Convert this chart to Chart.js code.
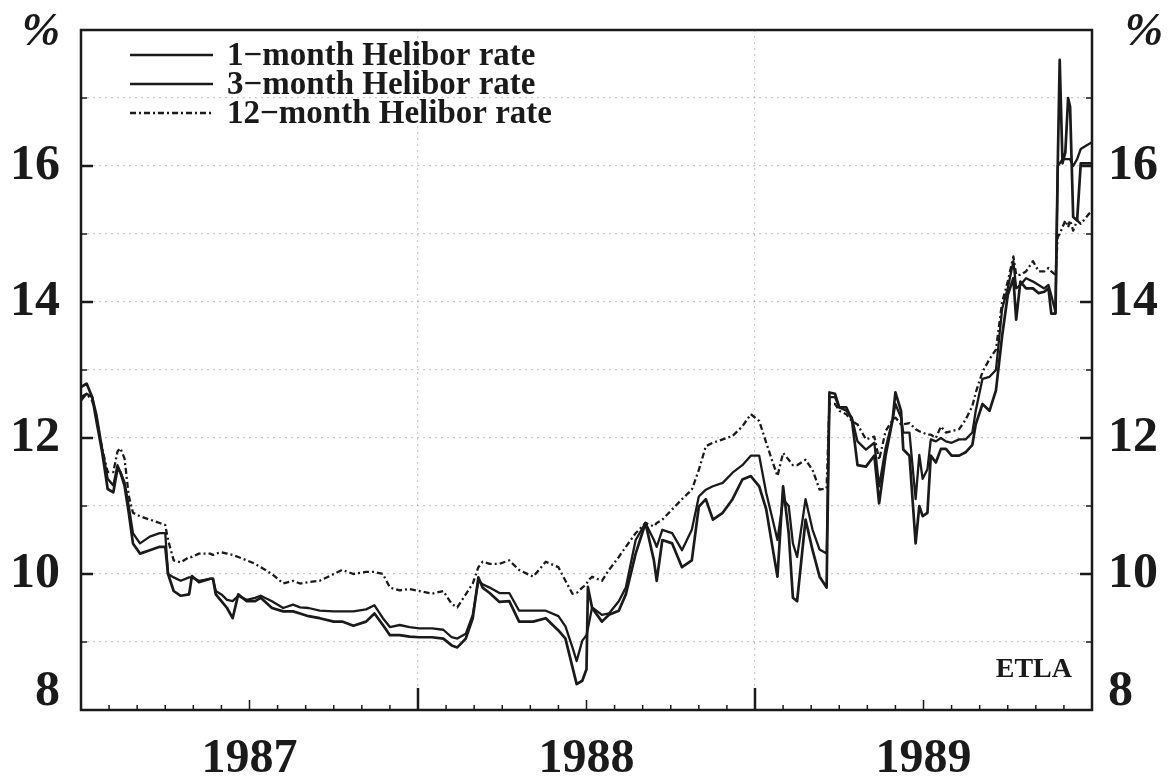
<!DOCTYPE html>
<html><head><meta charset="utf-8">
<script src="https://cdn.jsdelivr.net/npm/chart.js@4"></script>
<style>html,body{margin:0;padding:0;background:#fff}#wrap{width:1171px;height:778px;position:relative}</style>
</head><body><div id="wrap"><canvas id="c" width="1171" height="778" style="width:1171px;height:778px"></canvas></div>
<script>
// months since 1 Jan 1987
const months = [0,0.2,0.4,0.55,0.75,0.95,1.15,1.3,1.4,1.55,1.7,1.85,2.1,2.45,2.8,3.0,3.1,3.3,3.55,3.85,3.95,4.2,4.6,4.7,4.8,5.0,5.2,5.4,5.6,5.9,6.2,6.4,6.8,7.2,7.55,7.8,8.1,8.5,9.0,9.3,9.7,10.15,10.45,10.75,11.0,11.35,11.7,12.05,12.5,12.9,13.2,13.4,13.7,13.95,14.15,14.3,14.55,14.9,15.25,15.6,16.1,16.55,17.0,17.25,17.5,17.65,17.85,18.0,18.05,18.2,18.55,18.8,19.15,19.4,19.75,20.1,20.4,20.5,20.7,21.05,21.4,21.75,22.0,22.25,22.5,22.85,23.2,23.55,23.85,24.15,24.4,24.6,24.8,25.0,25.2,25.35,25.5,25.8,26.05,26.3,26.55,26.65,26.85,27.0,27.25,27.45,27.65,27.95,28.25,28.42,28.65,28.9,29.0,29.2,29.28,29.5,29.72,29.85,29.97,30.14,30.26,30.44,30.62,30.8,31.0,31.27,31.5,31.74,31.86,32.1,32.35,32.58,32.8,33.0,33.2,33.3,33.45,33.65,33.9,34.1,34.3,34.45,34.55,34.7,34.78,34.85,34.95,35.05,35.15,35.22,35.33,35.47,35.6,35.8,36.0];
const rate1m = [12.75,12.8,12.6,12.25,11.8,11.25,11.2,11.55,11.5,11.3,10.9,10.45,10.3,10.35,10.4,10.4,10.0,9.75,9.68,9.7,9.97,9.88,9.93,9.93,9.7,9.6,9.5,9.35,9.7,9.6,9.6,9.65,9.5,9.45,9.45,9.42,9.38,9.35,9.3,9.3,9.24,9.3,9.42,9.25,9.1,9.1,9.08,9.07,9.07,9.05,8.95,8.92,9.05,9.35,9.95,9.8,9.72,9.59,9.6,9.3,9.3,9.35,9.17,9.05,8.63,8.38,8.43,8.6,9.81,9.5,9.3,9.4,9.46,9.7,10.3,10.75,10.2,9.9,10.5,10.45,10.1,10.2,10.99,11.1,10.8,10.9,11.1,11.39,11.44,11.29,10.95,10.45,9.96,11.29,10.6,9.65,9.6,10.8,10.35,9.96,9.8,12.67,12.65,12.45,12.45,12.27,11.6,11.58,11.74,11.04,11.74,12.27,12.67,12.4,11.83,11.74,10.45,11.0,10.85,10.9,11.74,11.64,11.84,11.84,11.74,11.74,11.79,11.9,12.2,12.5,12.4,12.7,13.5,14.1,14.35,13.74,14.3,14.2,14.2,14.13,14.15,14.2,13.83,13.83,16.0,17.56,16.04,16.2,17.0,16.87,15.25,15.2,16.04,16.04,16.04];
const rate3m = [12.55,12.65,12.6,12.35,11.85,11.4,11.3,11.6,11.5,11.35,11.0,10.6,10.45,10.55,10.6,10.6,10.0,9.95,9.9,9.95,9.95,9.9,9.93,9.93,9.75,9.7,9.62,9.6,9.68,9.62,9.65,9.68,9.6,9.5,9.55,9.51,9.5,9.46,9.45,9.45,9.45,9.48,9.54,9.35,9.22,9.25,9.22,9.2,9.2,9.18,9.07,9.05,9.12,9.4,9.9,9.85,9.8,9.72,9.72,9.46,9.46,9.46,9.38,9.23,8.92,8.72,9.02,9.1,9.2,9.51,9.4,9.42,9.6,9.8,10.5,10.75,10.5,10.4,10.65,10.6,10.35,10.65,11.14,11.24,11.29,11.34,11.49,11.6,11.74,11.74,11.19,10.85,10.5,11.1,11.0,10.45,10.25,11.1,10.65,10.36,10.3,12.6,12.6,12.45,12.4,12.3,11.95,11.83,11.93,11.29,11.85,12.27,12.5,12.3,12.08,12.08,11.1,11.75,11.4,11.54,11.98,11.95,12.0,11.95,11.93,11.98,11.98,12.08,12.4,12.87,12.9,13.0,13.9,14.2,14.6,14.2,14.25,14.35,14.3,14.25,14.2,14.25,14.1,13.85,16.0,16.04,16.1,16.1,16.1,16.1,16.0,16.1,16.25,16.3,16.35];
const rate12m = [12.6,12.65,12.55,12.3,11.85,11.5,11.5,11.8,11.85,11.7,11.15,10.9,10.85,10.8,10.75,10.72,10.5,10.2,10.17,10.25,10.25,10.3,10.3,10.28,10.3,10.32,10.3,10.28,10.25,10.2,10.15,10.1,10.0,9.86,9.9,9.86,9.88,9.9,10.0,10.06,10.0,10.03,10.03,10.0,9.8,9.76,9.78,9.75,9.71,9.75,9.56,9.51,9.7,9.86,10.1,10.18,10.15,10.15,10.2,10.06,9.96,10.18,10.1,9.9,9.71,9.72,9.8,9.85,9.9,9.96,9.9,10.06,10.25,10.4,10.6,10.75,10.7,10.75,10.8,10.95,11.1,11.24,11.53,11.88,11.93,11.98,12.03,12.17,12.35,12.25,11.93,11.68,11.44,11.78,11.68,11.6,11.6,11.68,11.53,11.24,11.26,12.5,12.5,12.4,12.35,12.25,12.2,11.98,12.02,11.68,12.1,12.27,12.3,12.2,12.2,12.22,12.13,12.1,12.08,12.05,12.05,12.0,12.17,12.08,12.1,12.13,12.27,12.47,12.67,12.97,13.16,13.3,14.0,14.3,14.67,14.4,14.4,14.45,14.6,14.45,14.45,14.5,14.45,14.4,14.96,15.0,15.1,15.2,15.1,15.2,15.05,15.2,15.15,15.25,15.35];
const yearLabels = ['1987','1988','1989'];
const yLabelValues = [8,10,12,14,16];
const seriesNames = ['1\u2212month Helibor rate','3\u2212month Helibor rate','12\u2212month Helibor rate'];

const INK = '#1a1a1a';
const SERIF = '"Liberation Serif","Times New Roman",serif';

function pts(arr){ return months.map((m,i)=>({x:m,y:arr[i]})); }

const decor = {
  id:'decor',
  afterDraw(chart){
    const {ctx, chartArea:a, scales:{x,y}} = chart;
    ctx.save();
    ctx.strokeStyle = INK; ctx.fillStyle = INK;
    ctx.lineWidth = 2.5;
    ctx.strokeRect(a.left, a.top, a.right-a.left, a.bottom-a.top);
    for (let m=1;m<36;m++){
      const px = x.getPixelForValue(m);
      const len = m%12===0 ? 22 : (m%6===0 ? 10 : 5);
      ctx.lineWidth = m%12===0 ? 2.5 : 1.5;
      ctx.beginPath(); ctx.moveTo(px,a.bottom); ctx.lineTo(px,a.bottom-len); ctx.stroke();
    }
    for (let v=9; v<18; v++){
      const py = y.getPixelForValue(v);
      const len = v%2===0 ? 12 : 6;
      ctx.lineWidth = v%2===0 ? 2.5 : 1.5;
      ctx.beginPath(); ctx.moveTo(a.left,py); ctx.lineTo(a.left+len,py); ctx.stroke();
      ctx.beginPath(); ctx.moveTo(a.right,py); ctx.lineTo(a.right-len,py); ctx.stroke();
    }
    const rowsY = [25, 54, 83];
    ctx.font = 'bold 33px ' + SERIF;
    ctx.textBaseline = 'middle'; ctx.textAlign = 'left';
    chart.data.datasets.forEach((ds,i)=>{
      const yy = a.top + rowsY[i];
      ctx.save();
      ctx.lineWidth = ds.borderWidth; ctx.setLineDash(ds.borderDash || []);
      ctx.strokeStyle = ds.borderColor;
      ctx.beginPath(); ctx.moveTo(a.left+49, yy); ctx.lineTo(a.left+132, yy); ctx.stroke();
      ctx.restore();
      ctx.fillText(ds.label, a.left+146, yy+1);
    });
    ctx.font = 'italic bold 46px ' + SERIF;
    ctx.textAlign = 'center';
    ctx.fillText('%', a.left-40, a.top+3);
    ctx.fillText('%', a.right+52, a.top+3);
    ctx.font = 'bold 28px ' + SERIF;
    ctx.textAlign = 'right';
    ctx.fillText('ETLA', a.right-20, a.bottom-40);
    ctx.restore();
  }
};

function yTickCb(v){
  if (yLabelValues.indexOf(v) < 0) return '';
  return v === 8 ? ['8',''] : String(v);
}
const yFont = (c) => ({family: SERIF, size: 50, weight: 'bold', lineHeight: (c.tick && c.tick.value === 8) ? 0.72 : 1.2});
function noPadV(s){ s.paddingTop = 0; s.paddingBottom = 0; }

new Chart(document.getElementById('c'), {
  type: 'line',
  data: {
    datasets: [
      {label: seriesNames[0], data: pts(rate1m), borderColor: INK, borderWidth: 2.7, borderDash: []},
      {label: seriesNames[1], data: pts(rate3m), borderColor: INK, borderWidth: 2.3, borderDash: []},
      {label: seriesNames[2], data: pts(rate12m), borderColor: INK, borderWidth: 2.3, borderDash: [6,3,2,3]}
    ]
  },
  options: {
    responsive: false, animation: false,
    devicePixelRatio: 1,
    layout: {padding: {top: 30, left: 0, right: 0, bottom: 0}},
    elements: {point: {radius: 0}, line: {tension: 0, borderJoinStyle: 'round'}},
    plugins: {legend: {display: false}, tooltip: {enabled: false}},
    scales: {
      x: {
        type: 'linear', min: 0, max: 36,
        afterFit(s){ s.height = 68; s.paddingLeft = 0; s.paddingRight = 0; },
        border: {display: false, dash: [2,4]},
        grid: {drawTicks: false, lineWidth: 1.2,
          color: c => (c.tick && c.tick.value > 0 && c.tick.value < 36 && c.tick.value % 12 === 0) ? 'rgba(0,0,0,0.2)' : 'rgba(0,0,0,0)'},
        ticks: {stepSize: 6, autoSkip: false, maxRotation: 0, padding: 21, color: INK,
          font: {family: SERIF, size: 48, weight: 'bold'},
          callback: v => (v % 12 === 6) ? yearLabels[(v - 6) / 12] : ''}
      },
      y: {
        type: 'linear', min: 8, max: 18, position: 'left',
        afterFit(s){ s.width = 81; noPadV(s); },
        border: {display: false, dash: [2,4]},
        grid: {drawTicks: false, lineWidth: 1.2,
          color: c => (c.tick && c.tick.value > 8 && c.tick.value < 18) ? 'rgba(0,0,0,0.2)' : 'rgba(0,0,0,0)'},
        ticks: {stepSize: 1, autoSkip: false, padding: 21, color: INK, font: yFont, callback: yTickCb}
      },
      y2: {
        type: 'linear', min: 8, max: 18, position: 'right',
        afterFit(s){ s.width = 79; noPadV(s); },
        border: {display: false},
        grid: {display: false, drawTicks: false},
        ticks: {stepSize: 1, autoSkip: false, padding: 16, color: INK, font: yFont, callback: yTickCb}
      }
    }
  },
  plugins: [decor]
});
</script>
</body></html>
